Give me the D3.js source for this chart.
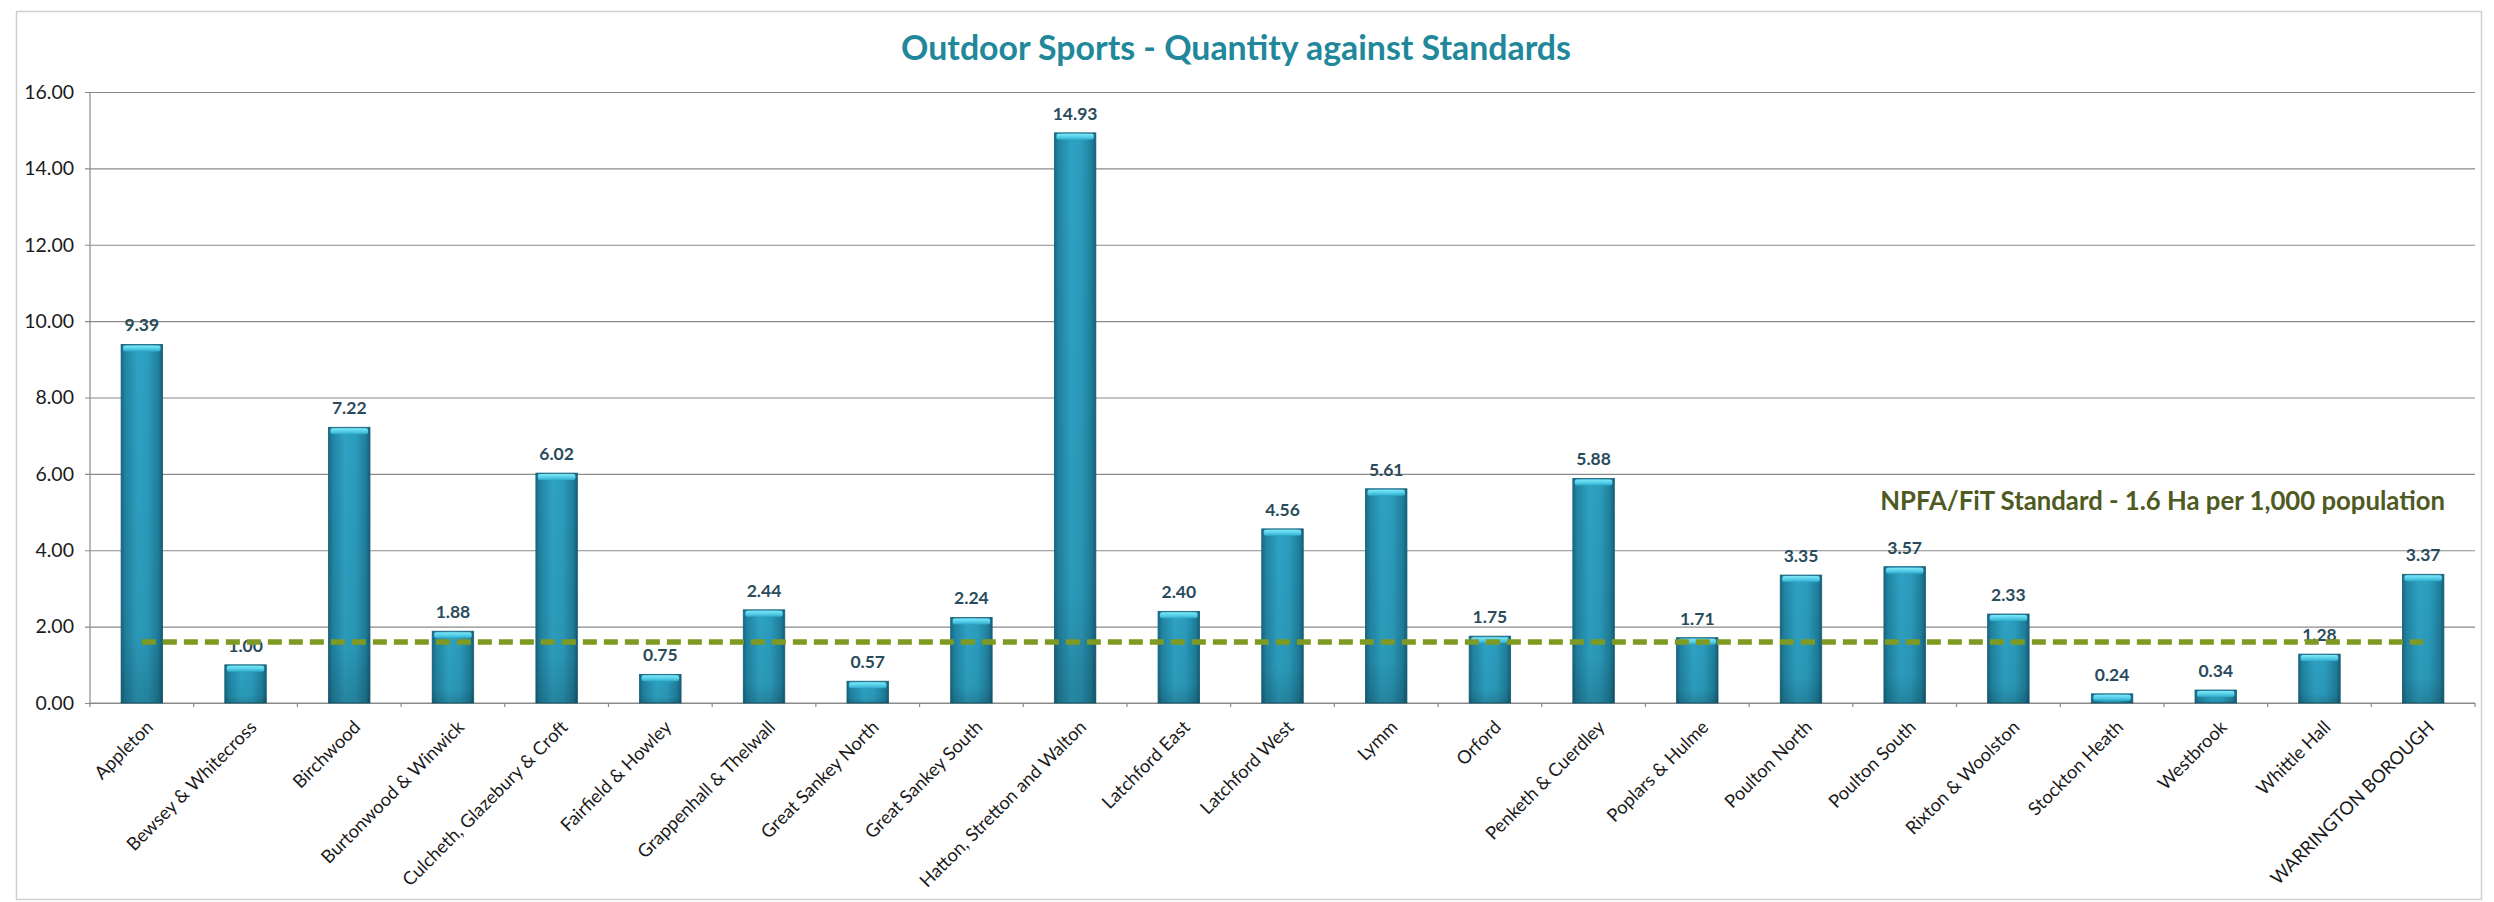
<!DOCTYPE html>
<html>
<head>
<meta charset="utf-8">
<script src="https://cdn.jsdelivr.net/npm/d3@7"></script>
<style>
  html, body { margin: 0; padding: 0; background: #ffffff; }
  svg { display: block; }
  text { font-family: Lato, "Open Sans", sans-serif; }
</style>
</head>
<body>
<svg id="chart" width="2494" height="902"></svg>
<script>
const categories = [
  "Appleton", "Bewsey & Whitecross", "Birchwood", "Burtonwood & Winwick",
  "Culcheth, Glazebury & Croft", "Fairfield & Howley", "Grappenhall & Thelwall",
  "Great Sankey North", "Great Sankey South", "Hatton, Stretton and Walton",
  "Latchford East", "Latchford West", "Lymm", "Orford", "Penketh & Cuerdley",
  "Poplars & Hulme", "Poulton North", "Poulton South", "Rixton & Woolston",
  "Stockton Heath", "Westbrook", "Whittle Hall", "WARRINGTON BOROUGH"
];
const values = [9.39, 1.00, 7.22, 1.88, 6.02, 0.75, 2.44, 0.57, 2.24, 14.93,
  2.40, 4.56, 5.61, 1.75, 5.88, 1.71, 3.35, 3.57, 2.33, 0.24, 0.34, 1.28, 3.37];
const standardValue = 1.6;
const yTicks = [0, 2, 4, 6, 8, 10, 12, 14, 16];
const titleText = "Outdoor Sports - Quantity against Standards";
const standardLabel = "NPFA/FiT Standard - 1.6 Ha per 1,000 population";

const svg = d3.select("#chart");
const plot = { left: 90, right: 2475, top: 92, bottom: 703 };

// outer chart border
svg.append("rect")
  .attr("x", 16.5).attr("y", 11.5).attr("width", 2465).attr("height", 888)
  .attr("fill", "#ffffff").attr("stroke", "#cfcfcf").attr("stroke-width", 1.5);

const defs = svg.append("defs");
const gBody = defs.append("linearGradient").attr("id", "barBody")
  .attr("x1", "0").attr("x2", "1").attr("y1", "0").attr("y2", "0");
[["0%", "#176a84"], ["10%", "#2184a3"], ["40%", "#2ea2c3"], ["65%", "#2b9cbd"], ["90%", "#1f7f9c"], ["100%", "#165f77"]]
  .forEach(([o, c]) => gBody.append("stop").attr("offset", o).attr("stop-color", c));
const gShade = defs.append("linearGradient").attr("id", "barShade")
  .attr("x1", "0").attr("x2", "0").attr("y1", "0").attr("y2", "1");
[["0%", "#000", 0], ["80%", "#000", 0.05], ["100%", "#000", 0.18]]
  .forEach(([o, c, a]) => gShade.append("stop").attr("offset", o).attr("stop-color", c).attr("stop-opacity", a));
const gCap = defs.append("linearGradient").attr("id", "barCap")
  .attr("x1", "0").attr("x2", "0").attr("y1", "0").attr("y2", "1");
[["0%", "#7fe6f6"], ["50%", "#55d0ea"], ["100%", "#2fa8c8"]]
  .forEach(([o, c]) => gCap.append("stop").attr("offset", o).attr("stop-color", c));

const x = d3.scaleBand().domain(categories).range([plot.left, plot.right]).paddingInner(0.6).paddingOuter(0.3);
const xBand = d3.scaleBand().domain(categories).range([plot.left, plot.right]).padding(0);
const y = d3.scaleLinear().domain([0, 16]).range([plot.bottom, plot.top]);

// gridlines + y axis
const yAxis = d3.axisLeft(y).tickValues(yTicks).tickFormat(d3.format(".2f"))
  .tickSize(-(plot.right - plot.left)).tickSizeOuter(0).tickPadding(16);
const yg = svg.append("g").attr("transform", `translate(${plot.left},0)`).call(yAxis);
yg.select(".domain").remove();
yg.selectAll(".tick line").attr("stroke", "#8a8a8a").attr("stroke-width", 1.2).attr("x1", -5);
yg.selectAll(".tick text").attr("fill", "#1a1a1a").attr("font-size", 19.5);
svg.append("line").attr("x1", plot.left).attr("x2", plot.left)
  .attr("y1", plot.top).attr("y2", plot.bottom).attr("stroke", "#8a8a8a").attr("stroke-width", 1.2);

// x axis
const xg = svg.append("g");
xg.append("line").attr("x1", plot.left).attr("x2", plot.right)
  .attr("y1", plot.bottom).attr("y2", plot.bottom).attr("stroke", "#8a8a8a").attr("stroke-width", 1.2);
const boundaries = categories.map(c => xBand(c)).concat([plot.right]);
xg.selectAll("line.tick").data(boundaries).enter().append("line")
  .attr("x1", d => d).attr("x2", d => d).attr("y1", plot.bottom).attr("y2", plot.bottom + 4)
  .attr("stroke", "#8a8a8a").attr("stroke-width", 1.2);
xg.selectAll("text.xl").data(categories).enter().append("text")
  .attr("class", "xl")
  .attr("transform", d => `translate(${xBand(d) + xBand.bandwidth() / 2 + 3},${plot.bottom + 16}) rotate(-45)`)
  .attr("text-anchor", "end").attr("dy", "0.72em")
  .attr("fill", "#1a1a1a").attr("font-size", 18.3)
  .text(d => d);

// bars
const bars = svg.append("g").selectAll("g.bar").data(categories).enter().append("g").attr("class", "bar");
bars.append("rect")
  .attr("x", d => x(d)).attr("width", x.bandwidth())
  .attr("y", (d, i) => y(values[i])).attr("height", (d, i) => y(0) - y(values[i]))
  .attr("fill", "url(#barBody)").attr("stroke", "#155e74").attr("stroke-width", 0.8);
bars.append("rect")
  .attr("x", d => x(d)).attr("width", x.bandwidth())
  .attr("y", (d, i) => y(values[i])).attr("height", (d, i) => y(0) - y(values[i]))
  .attr("fill", "url(#barShade)");
bars.append("rect")
  .attr("x", d => x(d) + 2).attr("width", x.bandwidth() - 4)
  .attr("y", (d, i) => y(values[i]) + 1).attr("height", (d, i) => Math.min(6, y(0) - y(values[i]) - 1))
  .attr("rx", 2)
  .attr("fill", "url(#barCap)");

// value labels
svg.append("g").selectAll("text").data(categories).enter().append("text")
  .attr("x", d => x(d) + x.bandwidth() / 2)
  .attr("y", (d, i) => y(values[i]) - 13)
  .attr("text-anchor", "middle").attr("font-weight", "bold").attr("font-size", 17.5)
  .attr("fill", "#2a4b5c")
  .text((d, i) => d3.format(".2f")(values[i]));

// standard dashed line
const first = categories[0], last = categories[categories.length - 1];
svg.append("line")
  .attr("x1", xBand(first) + xBand.bandwidth() / 2)
  .attr("x2", xBand(last) + xBand.bandwidth() / 2)
  .attr("y1", y(standardValue)).attr("y2", y(standardValue))
  .attr("stroke", "#7f9a22").attr("stroke-width", 5.5)
  .attr("stroke-dasharray", "14 7");

// fit a text element to a target width by adjusting its font size
function fitWidth(sel, target) {
  const fs = +sel.attr("font-size");
  const w = sel.node().getComputedTextLength();
  if (w > 0) sel.attr("font-size", fs * target / w);
}

// standard label
const std = svg.append("text").attr("x", 2445).attr("y", 510)
  .attr("text-anchor", "end").attr("font-weight", "bold").attr("font-size", 24)
  .attr("fill", "#4e5a1f").text(standardLabel);
fitWidth(std, 565);

// title
const title = svg.append("text").attr("x", 1236).attr("y", 60)
  .attr("text-anchor", "middle").attr("font-weight", "bold").attr("font-size", 33)
  .attr("fill", "#21879a").text(titleText);
fitWidth(title, 670);
</script>
</body>
</html>
